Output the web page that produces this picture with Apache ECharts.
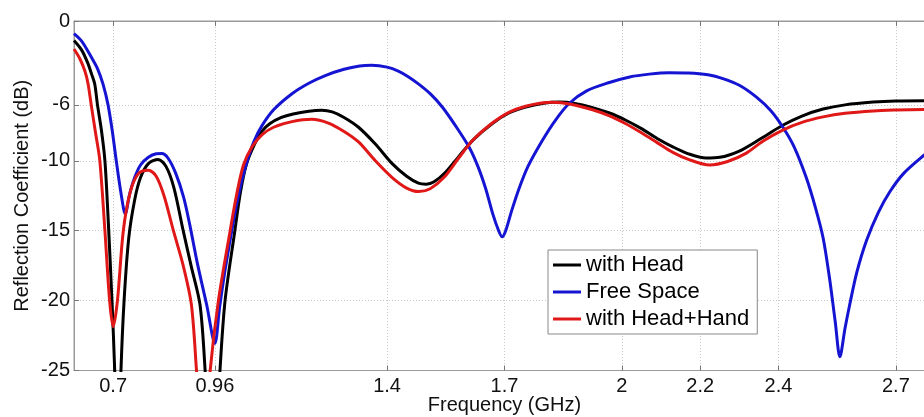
<!DOCTYPE html>
<html>
<head>
<meta charset="utf-8">
<script src="https://cdn.jsdelivr.net/npm/echarts@6/dist/echarts.min.js"></script>
<style>
html,body{margin:0;padding:0;background:#fff;}
#chart{width:924px;height:417px;}
</style>
</head>
<body>
<div id="chart"></div>
<script>
// Tick labels
var xTickValues = [0.7, 0.96, 1.4, 1.7, 2, 2.2, 2.4, 2.7];
var yTickValues = [0, -6, -10, -15, -20, -25];
var seriesNames = ['with Head', 'Free Space', 'with Head+Hand'];

// with Head (black)
var headFreq = [0.6, 0.62, 0.635, 0.645, 0.653, 0.66, 0.67, 0.679, 0.687, 0.697, 0.704, 0.712, 0.72, 0.728, 0.74, 0.755, 0.77, 0.79, 0.815, 0.835, 0.855, 0.879, 0.9, 0.922, 0.935, 0.954, 0.973, 0.986, 1.011, 1.025, 1.04, 1.06, 1.08, 1.1, 1.13, 1.16, 1.2, 1.233, 1.26, 1.29, 1.327, 1.37, 1.413, 1.45, 1.48, 1.5, 1.52, 1.55, 1.583, 1.62, 1.669, 1.71, 1.754, 1.8, 1.84, 1.88, 1.925, 1.97, 2.01, 2.05, 2.09, 2.13, 2.17, 2.215, 2.25, 2.3, 2.35, 2.411, 2.46, 2.514, 2.57, 2.642, 2.7, 2.772, 2.8];
var headDb = [-1.4, -2.1, -3.0, -3.8, -4.5, -6.0, -7.8, -10.0, -14.0, -20.0, -25.0, -33.0, -25.0, -20.0, -15.5, -12.8, -11.2, -10.2, -9.9, -10.4, -11.9, -15.0, -17.6, -20.3, -25.0, -35.0, -25.0, -20.0, -15.0, -12.3, -10.3, -8.9, -7.9, -7.35, -6.9, -6.65, -6.45, -6.38, -6.5, -6.9, -7.6, -8.8, -10.2, -11.1, -11.6, -11.67, -11.5, -10.8, -9.7, -8.5, -7.33, -6.6, -6.15, -5.88, -5.8, -5.9, -6.2, -6.6, -7.1, -7.7, -8.4, -9.0, -9.5, -9.8, -9.75, -9.3, -8.5, -7.46, -6.8, -6.3, -6.0, -5.8, -5.72, -5.7, -5.7];

// Free Space (blue)
var freeFreq = [0.6, 0.62, 0.644, 0.66, 0.674, 0.687, 0.698, 0.708, 0.72, 0.731, 0.742, 0.755, 0.77, 0.79, 0.81, 0.824, 0.84, 0.86, 0.88, 0.896, 0.915, 0.939, 0.96, 0.972, 0.985, 1.0, 1.015, 1.03, 1.045, 1.06, 1.08, 1.11, 1.157, 1.2, 1.242, 1.29, 1.33, 1.36, 1.4, 1.43, 1.455, 1.48, 1.51, 1.541, 1.575, 1.609, 1.632, 1.652, 1.67, 1.685, 1.694, 1.703, 1.718, 1.737, 1.76, 1.797, 1.83, 1.865, 1.91, 1.968, 2.02, 2.07, 2.12, 2.17, 2.22, 2.258, 2.3, 2.343, 2.38, 2.411, 2.44, 2.471, 2.495, 2.514, 2.53, 2.545, 2.557, 2.57, 2.582, 2.6, 2.625, 2.655, 2.685, 2.72, 2.772, 2.8];
var freeDb = [-0.9, -1.45, -2.57, -3.4, -4.5, -6.0, -7.9, -10.0, -12.3, -13.8, -12.4, -11.2, -10.3, -9.75, -9.5, -9.48, -9.8, -10.9, -12.6, -14.6, -17.3, -20.3, -23.06, -20.5, -18.0, -15.5, -13.2, -11.3, -9.8, -8.6, -7.5, -6.35, -5.2, -4.45, -3.9, -3.45, -3.22, -3.17, -3.3, -3.6, -4.0, -4.5, -5.2, -6.15, -7.5, -9.0, -10.4, -12.0, -13.8, -15.0, -15.44, -15.0, -13.6, -12.0, -10.4, -8.53, -7.1, -5.9, -5.0, -4.4, -4.0, -3.8, -3.7, -3.72, -3.85, -4.12, -4.6, -5.43, -6.4, -7.58, -9.0, -11.2, -13.4, -15.5, -18.3, -21.5, -24.02, -22.0, -20.3, -18.0, -15.7, -13.7, -12.2, -10.9, -9.6, -9.0];

// with Head+Hand (red)
var handFreq = [0.6, 0.615, 0.628, 0.636, 0.644, 0.655, 0.666, 0.679, 0.691, 0.7, 0.711, 0.726, 0.744, 0.765, 0.79, 0.81, 0.83, 0.854, 0.88, 0.9, 0.913, 0.93, 0.948, 0.969, 0.999, 1.015, 1.033, 1.055, 1.08, 1.11, 1.157, 1.208, 1.25, 1.29, 1.327, 1.37, 1.413, 1.45, 1.481, 1.51, 1.545, 1.583, 1.62, 1.669, 1.71, 1.754, 1.79, 1.822, 1.87, 1.925, 1.97, 2.01, 2.05, 2.09, 2.13, 2.17, 2.224, 2.27, 2.318, 2.36, 2.411, 2.46, 2.514, 2.57, 2.642, 2.7, 2.772, 2.8];
var handDb = [-2.0, -2.7, -3.6, -4.5, -6.0, -8.0, -10.0, -15.0, -20.0, -21.87, -20.0, -15.0, -12.2, -10.9, -10.67, -11.1, -12.5, -15.0, -17.6, -20.3, -25.0, -32.0, -25.0, -20.0, -15.0, -12.5, -10.3, -9.0, -8.15, -7.6, -7.2, -7.03, -7.3, -7.9, -8.65, -10.0, -11.2, -11.95, -12.2, -12.0, -11.2, -9.8, -8.5, -7.3, -6.55, -6.1, -5.88, -5.81, -5.95, -6.35, -6.8, -7.35, -8.0, -8.7, -9.4, -9.9, -10.3, -10.05, -9.45, -8.6, -7.8, -7.25, -6.86, -6.6, -6.43, -6.37, -6.33, -6.32];

function pairs(xs, ys) {
  var out = [];
  for (var i = 0; i < xs.length; i++) out.push([xs[i], ys[i]]);
  return out;
}

var FONT = 'Liberation Sans';
var chart = echarts.init(document.getElementById('chart'), null, {renderer: 'canvas'});

var option = {
  animation: false,
  backgroundColor: '#ffffff',
  grid: {left: 74, right: -11, top: 21, bottom: 46.5, show: true, borderColor: '#9a9a9a', borderWidth: 1, backgroundColor: 'transparent', containLabel: false, outerBoundsMode: 'none'},
  legend: {
    data: seriesNames,
    orient: 'vertical',
    left: 548, top: 250,
    icon: 'rect',
    itemWidth: 28, itemHeight: 3, itemGap: 5,
    padding: [4, 8, 4, 5],
    borderColor: '#888888', borderWidth: 1, backgroundColor: '#ffffff',
    textStyle: {fontFamily: FONT, fontSize: 22, color: '#000', lineHeight: 22},
    selectedMode: false
  },
  xAxis: [{
    type: 'value', min: 0.6, max: 2.8,
    name: 'Frequency (GHz)', nameLocation: 'middle', nameGap: 25, nameMoveOverlap: false,
    nameTextStyle: {fontFamily: FONT, fontSize: 20, color: '#111'},
    axisLine: {show: true, onZero: false, lineStyle: {color: '#9a9a9a', width: 1}},
    axisTick: {show: true, inside: true, length: 5, customValues: xTickValues, lineStyle: {color: '#777'}},
    axisLabel: {customValues: xTickValues, fontFamily: FONT, fontSize: 20, color: '#111', margin: 6},
    splitLine: {show: true, lineStyle: {color: '#c8c8c8', type: [1, 2], width: 1}}
  }, {
    type: 'value', min: 0.6, max: 2.8, position: 'top',
    axisLine: {show: true, onZero: false, lineStyle: {color: '#9a9a9a', width: 1}},
    axisTick: {show: true, inside: true, length: 5, customValues: xTickValues, lineStyle: {color: '#777'}},
    axisLabel: {show: false},
    splitLine: {show: false}
  }],
  yAxis: [{
    type: 'value', min: -25, max: 0,
    name: 'Reflection Coefficient (dB)', nameLocation: 'middle', nameGap: 42, nameMoveOverlap: false,
    nameTextStyle: {fontFamily: FONT, fontSize: 20, color: '#111'},
    axisLine: {show: true, onZero: false, lineStyle: {color: '#9a9a9a', width: 1}},
    axisTick: {show: true, inside: true, length: 5, customValues: yTickValues, lineStyle: {color: '#777'}},
    axisLabel: {customValues: yTickValues, fontFamily: FONT, fontSize: 20, color: '#111', margin: 4},
    splitLine: {show: true, lineStyle: {color: '#c8c8c8', type: [1, 2], width: 1}}
  }],
  series: [{
    name: seriesNames[0], type: 'line', data: pairs(headFreq, headDb),
    symbol: 'none', showSymbol: false, smooth: 0.3, clip: true,
    lineStyle: {color: '#000000', width: 3}, itemStyle: {color: '#000000'}
  }, {
    name: seriesNames[1], type: 'line', data: pairs(freeFreq, freeDb),
    symbol: 'none', showSymbol: false, smooth: 0.3, clip: true,
    lineStyle: {color: '#1414d2', width: 3}, itemStyle: {color: '#1414d2'}
  }, {
    name: seriesNames[2], type: 'line', data: pairs(handFreq, handDb),
    symbol: 'none', showSymbol: false, smooth: 0.3, clip: true,
    lineStyle: {color: '#e01818', width: 3}, itemStyle: {color: '#e01818'}
  }]
};
chart.setOption(option);
</script>
</body>
</html>
